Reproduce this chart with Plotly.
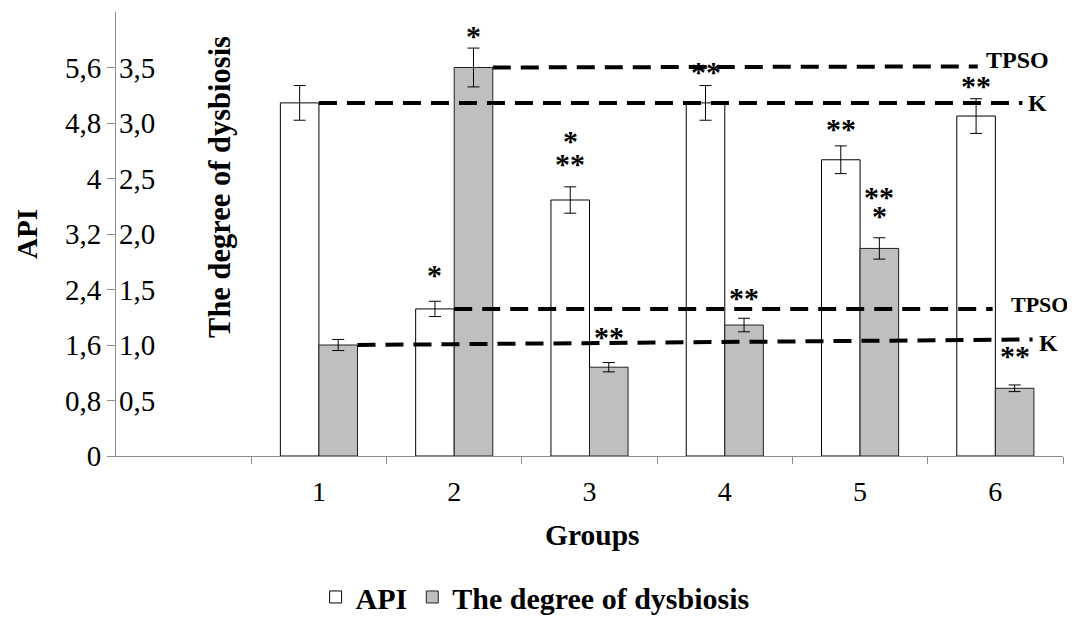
import plotly.graph_objects as go

# ---------------- data ----------------
groups = ["1", "2", "3", "4", "5", "6"]
group_pos = [1, 2, 3, 4, 5, 6]
api = [5.09, 2.12, 3.69, 5.09, 4.27, 4.90]
api_err = [0.25, 0.11, 0.19, 0.25, 0.20, 0.25]
dys = [1.00, 3.50, 0.80, 1.18, 1.87, 0.61]
dys_err = [0.05, 0.175, 0.042, 0.061, 0.096, 0.03]

api_ticks = [0, 0.8, 1.6, 2.4, 3.2, 4.0, 4.8, 5.6]
api_ticktext = ["0", "0,8", "1,6", "2,4", "3,2", "4", "4,8", "5,6"]
dys_ticks = [0.5, 1.0, 1.5, 2.0, 2.5, 3.0, 3.5]
dys_ticktext = ["0,5", "1,0", "1,5", "2,0", "2,5", "3,0", "3,5"]

# reference levels (K = control, TPSO) and the extent of their dashed lines
k_api_x = [1.0, 6.20]
k_api_y = [api[0], api[0]]
tpso_api_x = [2.0, 5.98]
tpso_api_y = [api[1], api[1]]
k_dys_x = [1.285, 6.275]
k_dys_y = [dys[0], 1.05]
tpso_dys_x = [2.285, 5.87]
tpso_dys_y = [dys[1], 3.51]

# significance marks: (group index, series, text)
star_marks = [
    (1, "api", "*"), (2, "api", "**"), (2, "api", "*"), (3, "api", "**"),
    (4, "api", "**"), (5, "api", "**"),
    (1, "dys", "*"), (2, "dys", "**"), (3, "dys", "**"), (4, "dys", "**"),
    (4, "dys", "*"), (5, "dys", "**"),
]
# vertical gap (px) from error-bar top to the mark (layout only)
star_gap = [33, 29, 52, 20, 23, 19, 19, 32, 27, 47, 28, 35]

# ---------------- figure ----------------
FONT = "'Liberation Serif', Tinos, 'Times New Roman', 'DejaVu Serif', serif"
BW = 0.285
API_MAX = 6.4
DYS_MAX = 4.0

fig = go.Figure()
fig.add_trace(go.Bar(
    name="<b>API</b>", x=group_pos, y=api, width=BW, offset=-BW,
    marker=dict(color="white", line=dict(color="black", width=1)),
    error_y=dict(type="data", array=api_err, color="black", thickness=1, width=6),
    yaxis="y",
))
fig.add_trace(go.Bar(
    name="<b>The degree of dysbiosis</b>", x=group_pos, y=dys, width=BW, offset=0,
    marker=dict(color="#bfbfbf", line=dict(color="#222222", width=1)),
    error_y=dict(type="data", array=dys_err, color="black", thickness=1, width=6),
    yaxis="y2",
))

DASH = "18px,10px"
for xs, ys in [(k_dys_x, k_dys_y), (tpso_dys_x, tpso_dys_y)]:
    fig.add_trace(go.Scatter(x=xs, y=ys, mode="lines", yaxis="y2", showlegend=False,
                             hoverinfo="skip",
                             line=dict(color="black", width=4, dash=DASH)))
for xs, ys in [(k_api_x, k_api_y), (tpso_api_x, tpso_api_y)]:
    fig.add_trace(go.Scatter(x=xs, y=ys, mode="lines", yaxis="y3", showlegend=False,
                             hoverinfo="skip",
                             line=dict(color="black", width=4, dash=DASH)))

annotations = []
# stars
for (gi, series, txt), gap in zip(star_marks, star_gap):
    if series == "api":
        yv = api[gi] + api_err[gi]
        xv = group_pos[gi] - BW / 2
        yref = "y"
    else:
        yv = dys[gi] + dys_err[gi]
        xv = group_pos[gi] + BW / 2
        yref = "y2"
    annotations.append(dict(x=xv, y=yv, xref="x", yref=yref, text="<b>" + txt + "</b>",
                            showarrow=False, xanchor="center", yanchor="middle",
                            yshift=gap - 6,
                            font=dict(family=FONT, size=30, color="black")))
# line labels
for xs, ys, yref, label, xsh, ysh, fs in [
    (tpso_dys_x, tpso_dys_y, "y2", "TPSO", 6, 6, 24),
    (k_api_x, k_api_y, "y3", "K", 4, 0, 24),
    (tpso_api_x, tpso_api_y, "y3", "TPSO", 16, 4, 22),
    (k_dys_x, k_dys_y, "y2", "K", 4, -4, 24),
]:
    annotations.append(dict(x=xs[-1], y=ys[-1], xref="x", yref=yref,
                            text="<b>" + label + "</b>", showarrow=False,
                            xanchor="left", yanchor="middle", xshift=xsh, yshift=ysh,
                            font=dict(family=FONT, size=fs, color="black")))
# axis titles
annotations.append(dict(x=0, y=0.5, xref="paper", yref="paper", text="<b>API</b>",
                        textangle=-90, showarrow=False, xanchor="center", yanchor="middle",
                        xshift=-89, font=dict(family=FONT, size=29, color="black")))
annotations.append(dict(x=0, y=0.606, xref="paper", yref="paper",
                        text="<b>The degree of dysbiosis</b>",
                        textangle=-90, showarrow=False, xanchor="center", yanchor="middle",
                        xshift=104, font=dict(family=FONT, size=30.5, color="black")))
annotations.append(dict(x=0.5, y=-0.178, xref="paper", yref="paper", text="<b>Groups</b>",
                        showarrow=False, xanchor="center", yanchor="middle", xshift=3,
                        font=dict(family=FONT, size=29.5, color="black")))

AXC = "#8c8c8c"
fig.update_layout(
    width=1067, height=618,
    margin=dict(l=108, r=12, t=4, b=170),
    paper_bgcolor="white", plot_bgcolor="white",
    barmode="overlay",
    font=dict(family=FONT, color="black"),
    xaxis=dict(
        range=[-0.5, 6.5], tickvals=group_pos, ticktext=groups,
        ticks="outside", ticklen=10, tickcolor="rgba(0,0,0,0)",
        tickfont=dict(family=FONT, size=28, color="black"),
        showline=True, linecolor=AXC, linewidth=1, showgrid=False, zeroline=False,
        minor=dict(tickvals=[-0.5, 0.5, 1.5, 2.5, 3.5, 4.5, 5.5, 6.5], ticks="outside",
                   ticklen=7, tickcolor=AXC, tickwidth=1, showgrid=False),
    ),
    yaxis=dict(
        range=[0, API_MAX], tickvals=api_ticks, ticktext=api_ticktext,
        ticks="outside", ticklen=8, tickcolor=AXC,
        tickfont=dict(family=FONT, size=29, color="black"),
        showline=True, linecolor=AXC, linewidth=1, showgrid=False, zeroline=False,
    ),
    yaxis2=dict(
        range=[0, DYS_MAX], tickvals=dys_ticks, ticktext=dys_ticktext,
        overlaying="y", side="left", anchor="x", ticklabelposition="inside",
        ticks="", tickfont=dict(family=FONT, size=29, color="black"),
        showline=False, showgrid=False, zeroline=False,
    ),
    yaxis3=dict(range=[0, API_MAX], overlaying="y", side="left", anchor="x",
                visible=False, showgrid=False),
    legend=dict(orientation="h", xref="container", yref="container", x=0.494, y=0.047,
                xanchor="center", yanchor="middle",
                font=dict(family=FONT, size=30, color="black"), itemwidth=30),
    annotations=annotations,
    showlegend=True,
)

fig.write_html("out.html")
